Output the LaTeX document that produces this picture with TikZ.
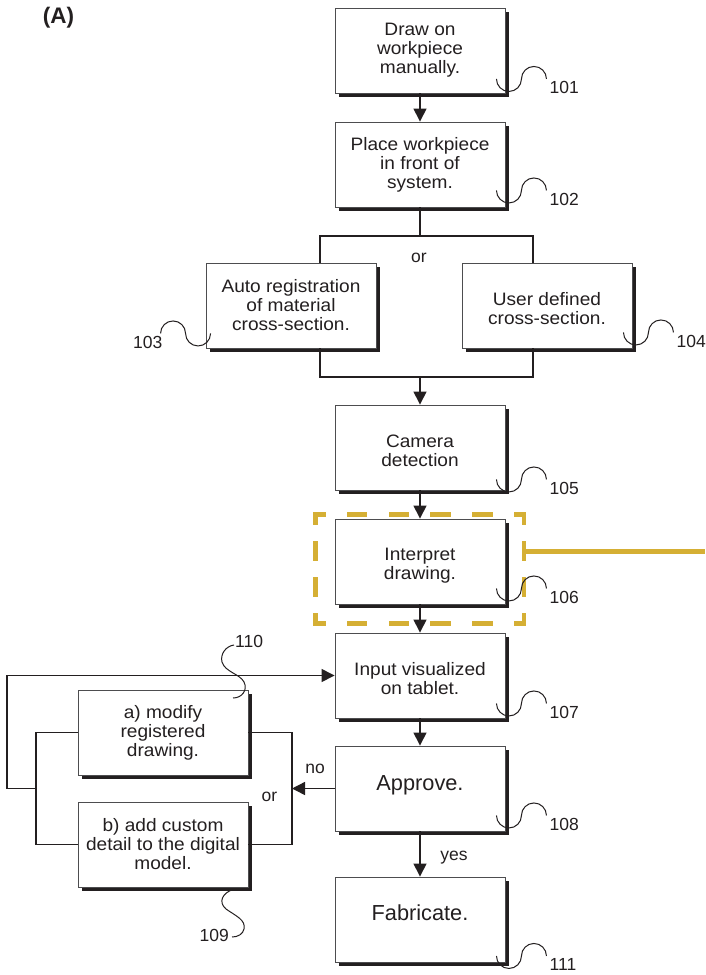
\documentclass[tikz,border=0pt]{standalone}
\usepackage{fontspec}
\setmainfont{Liberation Sans}
\newfontfamily\boxfont{Liberation Sans}[FakeStretch=1.06]
\usetikzlibrary{arrows.meta,shadows}
\definecolor{ink}{HTML}{231F20}
\definecolor{frame}{HTML}{4D4D4F}
\definecolor{gold}{RGB}{213,175,52}

\tikzset{
  stepbox/.style={draw=frame, line width=0.9pt, fill=white,
    minimum width=170pt, minimum height=85pt, inner sep=2pt,
    align=center, text=ink, font=\boxfont\fontsize{18}{19}\selectfont,
    drop shadow={shadow xshift=4pt, shadow yshift=-4pt, opacity=1, fill=ink}},
  % two-line captions sit a little below the middle of their box
  twoline/.style={execute at begin node={\rule{0pt}{39pt}}},
  bigtext/.style={font=\fontsize{21.75}{22}\selectfont},
  flow/.style={draw=ink, line width=1.4pt},
  arr/.style={flow, -{Triangle[length=13pt,width=13pt]}},
  tag/.style={text=ink, font=\fontsize{17.5}{18}\selectfont, inner sep=0pt},
  squig/.style={draw=ink, line width=1pt},
  golddash/.style={draw=gold, line width=4.5pt, line cap=rect},
  squigglepic/.pic={
    \path[squig] (-9,-16) .. controls (-9,-9.1) and (-3.4,-3.5) .. (3.5,-3.5)
      .. controls (10.4,-3.5) and (16,-9.1) .. (16,-16)
      .. controls (16,-22.9) and (21.6,-28.5) .. (28.5,-28.5)
      .. controls (35.4,-28.5) and (41,-22.9) .. (41,-16);
  },
}

\begin{document}
\begin{tikzpicture}[x=1pt,y=-1pt]
\useasboundingbox (0,0) rectangle (705,975);

% highlighted interpretation step
\node[minimum width=208.5pt, minimum height=109pt, inner sep=0pt, outer sep=0pt] (focus) at (419.75,569) {};
\draw[golddash, dash pattern=on 16pt off 25.7pt, dash phase=8pt] (focus.north west) -- (focus.north east);
\draw[golddash, dash pattern=on 16pt off 25.7pt, dash phase=8pt] (focus.south west) -- (focus.south east);
\draw[golddash, dash pattern=on 16pt off 20.3pt, dash phase=8pt] (focus.north west) -- (focus.south west);
\draw[golddash, dash pattern=on 16pt off 20.3pt, dash phase=8pt] (focus.north east) -- (focus.south east);
\coordinate (goldEnd) at (705,551.5);
\draw[draw=gold, line width=4.5pt] (focus.east |- goldEnd) -- (goldEnd);

% title
\node[text=ink, font=\bfseries\fontsize{22.5}{23}\selectfont] (title) at (58.5,17.5) {(A)};

% process steps
\node[stepbox] (b101) at (420,50.5) {Draw on\\workpiece\\manually.};
\node[stepbox] (b102) at (420,164.5) {Place workpiece\\in front of\\system.};
\node[stepbox] (b103) at (291,305.5) {Auto registration\\of material\\cross-section.};
\node[stepbox, twoline] (b104) at (547,305.5) {User defined\\cross-section.};
\node[stepbox, twoline] (b105) at (420,447.5) {Camera\\detection};
\node[stepbox, twoline] (b106) at (420,561.5) {Interpret\\drawing.};
\node[stepbox, twoline] (b107) at (420,675.5) {Input visualized\\on tablet.};
\node[stepbox, bigtext, text height=16pt, text depth=12pt] (b108) at (420,788.5) {Approve.};
\node[stepbox, bigtext, text height=16pt, text depth=14pt] (b111) at (420,919.5) {Fabricate.};
\node[stepbox] (ba) at (163,732.5) {a) modify\\registered\\drawing.};
\node[stepbox] (bb) at (163,844.5) {b) add custom\\detail to the digital\\model.};

% main flow
\draw[arr] (b101.south) -- (b102.north);
\coordinate (splitTop) at (420,236);
\coordinate (orL) at (320,236);
\coordinate (orR) at (533,236);
\coordinate (joinL) at (320,377);
\coordinate (joinR) at (533,377);
\coordinate (joinM) at (420,377);
\draw[flow] (b102.south) -- (splitTop);
\draw[flow] (b103.north -| orL) -- (orL) -- (orR) -- (b104.north -| orR);
\draw[flow] (b103.south -| joinL) -- (joinL) -- (joinR) -- (b104.south -| joinR);
\draw[arr] (joinM) -- (b105.north);
\draw[arr] (b105.south) -- (b106.north);
\draw[arr] (b106.south) -- (b107.north);
\draw[arr] (b107.south) -- (b108.north);
\draw[arr] (b108.south) -- (b111.north);

% rejection branch
\coordinate (brL) at (36,0);
\coordinate (brR) at (292,0);
\coordinate (loopX) at (7,0);
\draw[flow] (ba.west) -- (ba.west -| brL) -- (bb.west -| brL) -- (bb.west);
\draw[flow] (ba.east) -- (ba.east -| brR) -- (bb.east -| brR) -- (bb.east);
\draw[arr] (b108.west) -- (b108.west -| brR);
\draw[arr] (b108.west -| brL) -- (b108.west -| loopX) -- (b107.west -| loopX) -- (b107.west);

% flow labels
\node[tag] (orTop) at (419,258) {or};
\node[tag] (orLeft) at (269.5,797) {or};
\node[tag] (noLbl) at (315,768.5) {no};
\node[tag] (yesLbl) at (454,857.5) {yes};

% reference numerals
\pic[shift={(0,1.5)}] at (b101.south east) {squigglepic};
\node[tag, anchor=west] (r101) at ([shift={(44,-5.5)}]b101.south east) {101};
\pic[shift={(0,-1)}] at (b102.south east) {squigglepic};
\node[tag, anchor=west] (r102) at ([shift={(44,-8)}]b102.south east) {102};
\pic[shift={(-4,1)}, xscale=-1] at (b103.south west) {squigglepic};
\node[tag, anchor=east] (r103) at ([shift={(-43,-6)}]b103.south west) {103};
\pic at (b104.south east) {squigglepic};
\node[tag, anchor=west] (r104) at ([shift={(44,-7)}]b104.south east) {104};
\pic[shift={(0,5)}] at (b105.south east) {squigglepic};
\node[tag, anchor=west] (r105) at ([shift={(44,-2)}]b105.south east) {105};
\pic at (b106.south east) {squigglepic};
\node[tag, anchor=west] (r106) at ([shift={(44,-7)}]b106.south east) {106};
\pic[shift={(0,1)}] at (b107.south east) {squigglepic};
\node[tag, anchor=west] (r107) at ([shift={(44,-6)}]b107.south east) {107};
\pic at (b108.south east) {squigglepic};
\node[tag, anchor=west] (r108) at ([shift={(44,-7)}]b108.south east) {108};
\pic[shift={(0,9.5)}] at (b111.south east) {squigglepic};
\node[tag, anchor=west] (r111) at ([shift={(44,2.5)}]b111.south east) {111};

\path[squig] (233,698) .. controls (242,698) and (248,690) .. (244,682)
  .. controls (240,674) and (225,672) .. (222,662)
  .. controls (220,654) and (226,646) .. (234,645);
\node[tag, anchor=west] (r110) at (235,641) {110};

\path[squig] (234,889) .. controls (222,893) and (218,902) .. (226,909)
  .. controls (236,916) and (246,920) .. (244,929)
  .. controls (243,934) and (238,937) .. (232,937);
\node[tag, anchor=east] (r109) at (229,935.5) {109};

\end{tikzpicture}
\end{document}
